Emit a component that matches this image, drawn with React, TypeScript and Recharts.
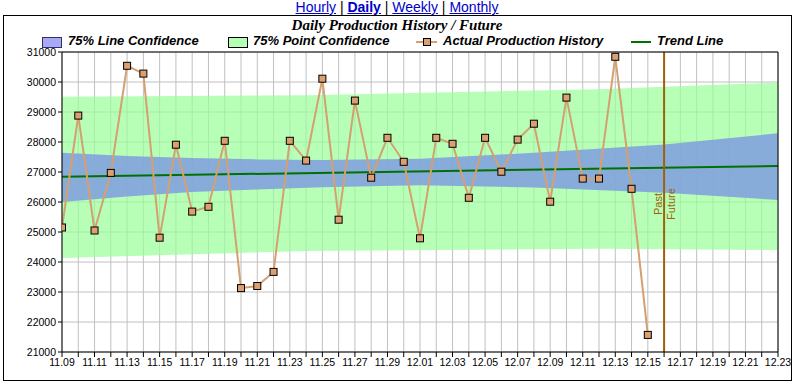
import React from 'react';
import {
  ComposedChart,
  Line,
  Area,
  XAxis,
  YAxis,
  CartesianGrid,
  ReferenceLine
} from 'recharts';

// day labels, index 0 = 11.09
const dateLabels = [
  '11.09', '11.10', '11.11', '11.12', '11.13', '11.14', '11.15', '11.16', '11.17', '11.18',
  '11.19', '11.20', '11.21', '11.22', '11.23', '11.24', '11.25', '11.26', '11.27', '11.28',
  '11.29', '11.30', '12.01', '12.02', '12.03', '12.04', '12.05', '12.06', '12.07', '12.08',
  '12.09', '12.10', '12.11', '12.12', '12.13', '12.14', '12.15', '12.16', '12.17', '12.18',
  '12.19', '12.20', '12.21', '12.22', '12.23'
];

// Actual production history (11.09 .. 12.15)
const actualHistory = [
  25150, 28880, 25050, 26970, 30540, 30280, 24810, 27910, 25680, 25840,
  28040, 23130, 23200, 23670, 28040, 27380, 30110, 25410, 29380, 26810,
  28140, 27340, 24790, 28140, 27940, 26140, 28140, 27010, 28080, 28610,
  26010, 29480, 26780, 26780, 30840, 26440, 21570
];

// Trend line
const trendDays = [0, 44];
const trendValues = [26840, 27200];

// 75% line confidence band
const lineConfDays = [0, 4, 8, 12, 16, 22, 29, 37, 44];
const lineConfLow = [26000, 26180, 26330, 26420, 26490, 26560, 26480, 26310, 26070];
const lineConfHigh = [27640, 27530, 27470, 27420, 27400, 27440, 27640, 27920, 28290];

// 75% point confidence band
const pointConfDays = [0, 15, 33, 44];
const pointConfLow = [24130, 24370, 24440, 24400];
const pointConfHigh = [29510, 29560, 29760, 29980];

const yTicks = [21000, 22000, 23000, 24000, 25000, 26000, 27000, 28000, 29000, 30000, 31000];
const pastFutureDay = 37;

const actualData = actualHistory.map((v, i) => ({ day: i, value: v }));
const trendData = trendDays.map((d, i) => ({ day: d, value: trendValues[i] }));
const lineConfData = lineConfDays.map((d, i) => ({ day: d, range: [lineConfLow[i], lineConfHigh[i]] }));
const pointConfData = pointConfDays.map((d, i) => ({ day: d, range: [pointConfLow[i], pointConfHigh[i]] }));
const xTicks = dateLabels.map((_, i) => i);

const SANS = '"Liberation Sans", Arial, sans-serif';
const SERIF = '"Liberation Serif", "Times New Roman", serif';
const BROWN = '#A0600A';

const SquareDot = (props: any) => {
  const { cx, cy, index } = props;
  if (cx == null || cy == null) return null;
  return (
    <rect key={`dot-${index}`} x={cx - 3.5} y={cy - 3.5} width={7} height={7}
      fill="#DCA070" stroke="#000" strokeWidth={1} />
  );
};

const PastFutureLabel = (props: any) => {
  const x = props.viewBox.x;
  const cy = 204;
  return (
    <g fontFamily={SANS} fontSize={11} fill={BROWN}>
      <text transform={`translate(${x - 2},${cy}) rotate(-90)`} textAnchor="middle">Past</text>
      <text transform={`translate(${x + 11},${cy}) rotate(-90)`} textAnchor="middle">Future</text>
    </g>
  );
};

const legendText: React.CSSProperties = {
  position: 'absolute', top: 33, fontFamily: SANS, fontSize: 13,
  fontWeight: 'bold', fontStyle: 'italic', color: '#000', whiteSpace: 'nowrap'
};

export default function App() {
  return (
    <div style={{ position: 'absolute', left: 0, top: 0, width: 794, height: 383, background: '#fff' }}>
      {/* links */}
      <div style={{ position: 'absolute', top: -1, left: 0, width: 794, textAlign: 'center', fontFamily: SANS, fontSize: 14 }}>
        <span style={{ color: '#00c', textDecoration: 'underline' }}>Hourly</span>
        {' | '}
        <span style={{ color: '#00c', textDecoration: 'underline', fontWeight: 'bold' }}>Daily</span>
        {' | '}
        <span style={{ color: '#00c', textDecoration: 'underline' }}>Weekly</span>
        {' | '}
        <span style={{ color: '#00c', textDecoration: 'underline' }}>Monthly</span>
      </div>
      {/* frame */}
      <div style={{ position: 'absolute', left: 3, top: 15, width: 789, height: 366, border: '1px solid #000', boxSizing: 'border-box' }} />
      {/* title */}
      <div style={{ position: 'absolute', top: 17, left: 0, width: 794, textAlign: 'center', fontFamily: SERIF, fontSize: 15, fontWeight: 'bold', fontStyle: 'italic' }}>
        Daily Production History / Future
      </div>
      {/* legend */}
      <div style={{ position: 'absolute', left: 42, top: 37, width: 18, height: 9, background: '#A8A8F4', border: '1px solid #303070' }} />
      <div style={{ ...legendText, left: 68 }}>75% Line Confidence</div>
      <div style={{ position: 'absolute', left: 228, top: 37, width: 18, height: 9, background: '#B3FFB3', border: '1px solid #000' }} />
      <div style={{ ...legendText, left: 253 }}>75% Point Confidence</div>
      <svg style={{ position: 'absolute', left: 416, top: 35 }} width={22} height={14}>
        <line x1={0} y1={7} x2={21} y2={7} stroke="#D4A070" strokeWidth={2} />
        <rect x={7.5} y={3.5} width={7} height={7} fill="#DCA070" stroke="#000" strokeWidth={1} />
      </svg>
      <div style={{ ...legendText, left: 443 }}>Actual Production History</div>
      <svg style={{ position: 'absolute', left: 631, top: 35 }} width={22} height={14}>
        <line x1={0} y1={7} x2={20} y2={7} stroke="#007000" strokeWidth={2} />
      </svg>
      <div style={{ ...legendText, left: 657 }}>Trend Line</div>

      <div style={{ position: 'absolute', left: 0, top: 0 }}>
        <ComposedChart width={794} height={383} margin={{ top: 52, right: 16, bottom: 11, left: 0 }}>
          <CartesianGrid stroke="#C0C0C0" strokeWidth={1} />
          <XAxis
            type="number"
            dataKey="day"
            domain={[0, 44]}
            ticks={xTicks}
            interval={0}
            height={20}
            tickFormatter={(v: number) => (v % 2 === 0 ? dateLabels[v] : '')}
            tick={{ fontSize: 10.5, fontFamily: SANS, fill: '#000' }}
            tickSize={5}
            tickMargin={2}
            stroke="#000"
            allowDataOverflow
          />
          <YAxis
            type="number"
            domain={[21000, 31000]}
            ticks={yTicks}
            interval={0}
            width={62}
            tick={{ fontSize: 10.5, fontFamily: SANS, fill: '#000' }}
            tickSize={4}
            tickMargin={2}
            stroke="#000"
            allowDataOverflow
          />
          <Area
            data={pointConfData}
            dataKey="range"
            type="linear"
            stroke="none"
            fill="#98FF98"
            fillOpacity={0.7}
            isAnimationActive={false}
          />
          <Area
            data={lineConfData}
            dataKey="range"
            type="linear"
            stroke="none"
            fill="#809DDF"
            fillOpacity={0.85}
            isAnimationActive={false}
          />
          <Line
            data={trendData}
            dataKey="value"
            type="linear"
            stroke="#007000"
            strokeWidth={2}
            dot={false}
            isAnimationActive={false}
          />
          <ReferenceLine x={pastFutureDay} stroke={BROWN} strokeWidth={2} label={<PastFutureLabel />} />
          <Line
            data={actualData}
            dataKey="value"
            type="linear"
            stroke="#D4A070"
            strokeWidth={2}
            dot={<SquareDot />}
            activeDot={false}
            isAnimationActive={false}
          />
          <ReferenceLine y={31000} stroke="#000" />
          <ReferenceLine x={44} stroke="#000" />
        </ComposedChart>
      </div>
    </div>
  );
}
